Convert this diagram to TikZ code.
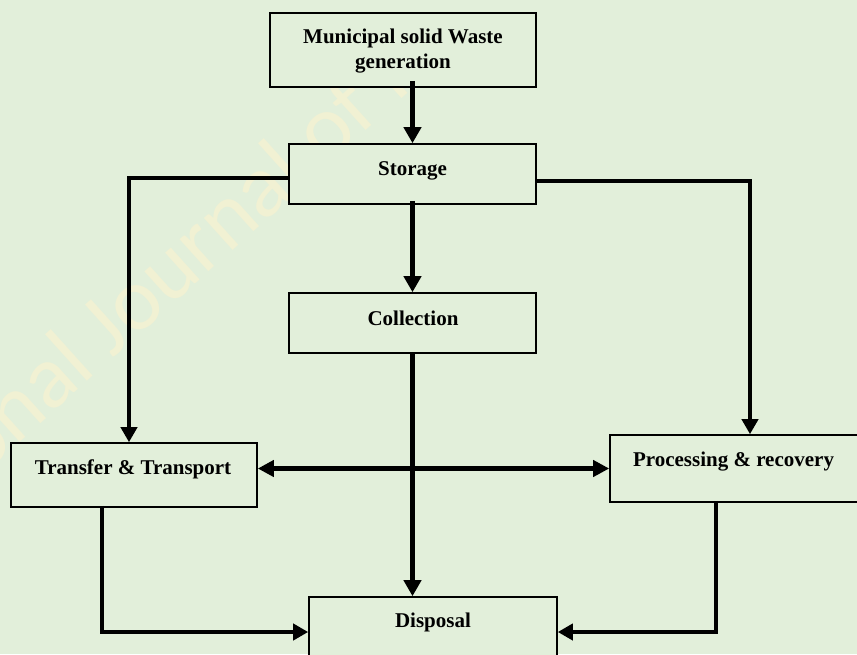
\documentclass[tikz,border=0pt]{standalone}
\usepackage{fontspec}
\setmainfont{Liberation Serif}
\newfontfamily\wmfont{Carlito}
\usetikzlibrary{arrows.meta}
\definecolor{pagebg}{RGB}{226,239,218}
\definecolor{wmyellow}{RGB}{241,241,211}
\begin{document}
\begin{tikzpicture}[x=1pt,y=-1pt,
  box/.style={draw=black, line width=1.6pt, fill=pagebg, inner sep=0pt},
  lbl/.style={font=\fontsize{21}{25}\selectfont\bfseries, inner sep=0pt, align=center},
  main/.style={line width=5pt, -{Triangle[length=16pt,width=17pt]}},
  branch/.style={line width=4pt, -{Triangle[length=15pt,width=16pt]}},
  both/.style={line width=5pt, {Triangle[length=16pt,width=16pt]}-{Triangle[length=16pt,width=16pt]}},
  wm/.style={font=\wmfont\fontsize{90}{90}\selectfont, text=wmyellow, inner sep=0pt}
]
\useasboundingbox (0,0) rectangle (857,654);
\fill[pagebg] (0,0) rectangle (857,654);
\clip (0,0) rectangle (857,654);

% faint journal watermark
\node[wm, rotate=42, anchor=base west] (mark) at (-20,478) {onal Journal of In};

% process boxes
\node[box, minimum width=266pt, minimum height=74pt] (msw)        at (403,50)    {};
\node[box, minimum width=247pt, minimum height=60pt] (storage)    at (412.5,174) {};
\node[box, minimum width=247pt, minimum height=60pt] (collection) at (412.5,323) {};
\node[box, minimum width=246pt, minimum height=64pt] (transfer)   at (134,475)   {};
\node[box, minimum width=252pt, minimum height=67pt] (processing) at (736,468.5) {};
\node[box, minimum width=248pt, minimum height=70pt] (disposal)   at (433,632)   {};

% box labels
\node[lbl] (msw-t) at (403,50.6) {Municipal solid Waste\\generation};
\node[lbl, anchor=base] (storage-t)    at (412.5,175) {Storage};
\node[lbl, anchor=base] (collection-t) at (413,325)   {Collection};
\node[lbl, anchor=base] (transfer-t)   at (133,474)   {Transfer \& Transport};
\node[lbl, anchor=base] (processing-t) at (733.5,466) {Processing \& recovery};
\node[lbl, anchor=base] (disposal-t)   at (433,627)   {Disposal};

% flows
\draw[main, shorten <=-7pt] (storage.north |- msw.south) -- (storage.north);
\draw[main, shorten <=-4pt] (storage.south) -- (collection.north);
\draw[main] (collection.south) -- (collection.south |- disposal.north);
\draw[branch] ([yshift=-4pt]storage.west) -| ([xshift=-5pt]transfer.north);
\draw[branch] ([yshift=-7pt]storage.east) -| ([xshift=14pt]processing.north);
\draw[both] (transfer.east |- processing.west) -- (processing.west);
\draw[branch, shorten <=-2pt] ([xshift=-32pt]transfer.south) |- (disposal.west);
\draw[branch, shorten <=-2pt] ([xshift=-20pt]processing.south) |- (disposal.east);
\end{tikzpicture}
\end{document}
